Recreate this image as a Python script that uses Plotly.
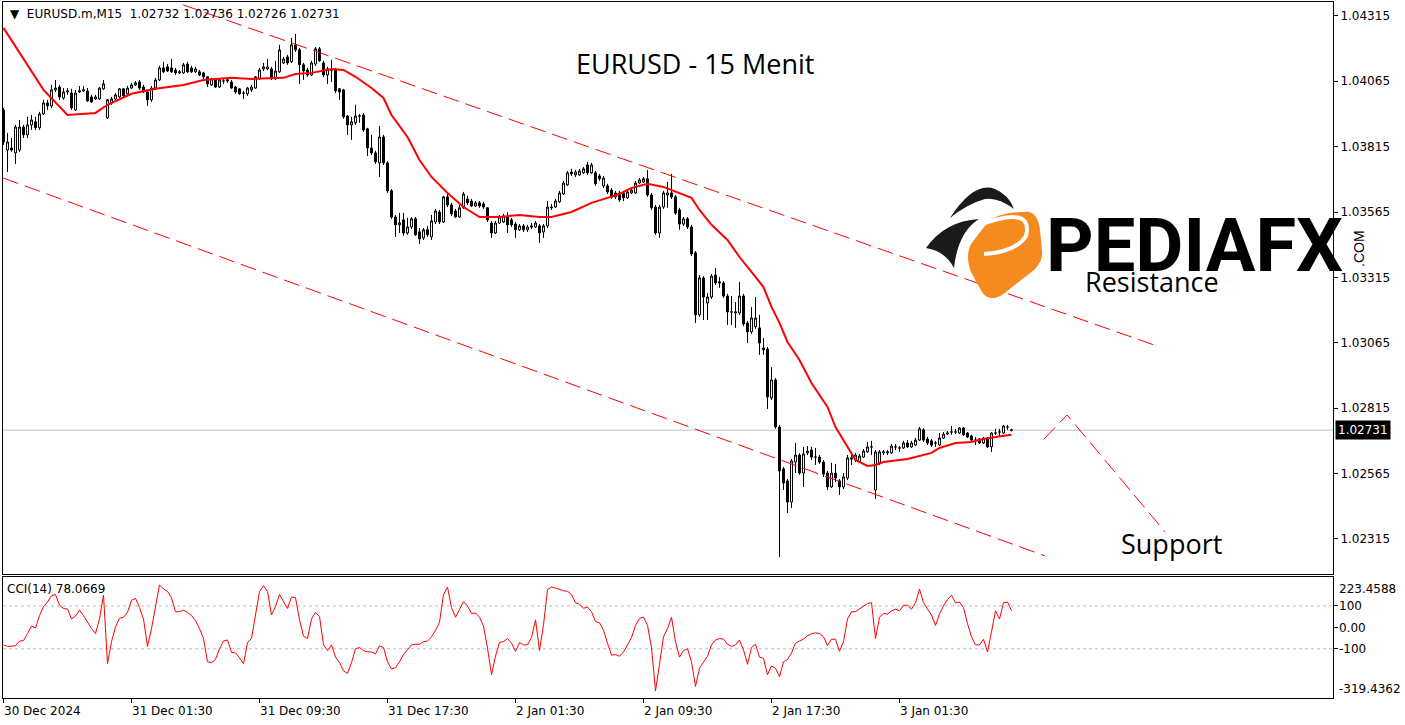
import plotly.graph_objects as go

# ---------------- data ----------------
opens = [1.03955, 1.03802, 1.03810, 1.03791, 1.03802, 1.03890, 1.03860, 1.03898, 1.03910, 1.03887,
         1.03940, 1.03982, 1.03971, 1.04032, 1.04043, 1.04001, 1.04024, 1.04020, 1.03955, 1.04024,
         1.04028, 1.04028, 1.04005, 1.03997, 1.03997, 1.04036, 1.03925, 1.03982, 1.03997, 1.04005,
         1.04036, 1.04017, 1.04039, 1.04051, 1.04062, 1.04043, 1.04024, 1.03994, 1.04039, 1.04070,
         1.04116, 1.04120, 1.04116, 1.04108, 1.04097, 1.04097, 1.04131, 1.04116, 1.04101, 1.04101,
         1.04097, 1.04082, 1.04051, 1.04074, 1.04043, 1.04066, 1.04066, 1.04062, 1.04043, 1.04036,
         1.04020, 1.04017, 1.04032, 1.04039, 1.04074, 1.04112, 1.04112, 1.04112, 1.04074, 1.04101,
         1.04135, 1.04158, 1.04139, 1.04204, 1.04185, 1.04128, 1.04108, 1.04089, 1.04131, 1.04189,
         1.04135, 1.04089, 1.04108, 1.04108, 1.04036, 1.04032, 1.03932, 1.03898, 1.03906, 1.03932,
         1.03936, 1.03883, 1.03810, 1.03791, 1.03753, 1.03852, 1.03753, 1.03646, 1.03546, 1.03516,
         1.03535, 1.03485, 1.03508, 1.03539, 1.03489, 1.03466, 1.03497, 1.03470, 1.03527, 1.03565,
         1.03527, 1.03623, 1.03592, 1.03569, 1.03546, 1.03581, 1.03615, 1.03607, 1.03588, 1.03600,
         1.03596, 1.03581, 1.03523, 1.03485, 1.03523, 1.03527, 1.03546, 1.03535, 1.03519, 1.03497,
         1.03512, 1.03497, 1.03512, 1.03508, 1.03512, 1.03489, 1.03512, 1.03581, 1.03584, 1.03604,
         1.03634, 1.03669, 1.03718, 1.03707, 1.03707, 1.03715, 1.03745, 1.03715, 1.03715, 1.03703,
         1.03665, 1.03665, 1.03649, 1.03623, 1.03638, 1.03638, 1.03619, 1.03638, 1.03638, 1.03676,
         1.03680, 1.03692, 1.03630, 1.03584, 1.03485, 1.03584, 1.03630, 1.03638, 1.03623, 1.03573,
         1.03519, 1.03539, 1.03508, 1.03409, 1.03172, 1.03313, 1.03217, 1.03240, 1.03324, 1.03298,
         1.03294, 1.03244, 1.03183, 1.03179, 1.03179, 1.03244, 1.03141, 1.03107, 1.03126, 1.03122,
         1.03045, 1.03041, 1.02854, 1.02923, 1.02743, 1.02583, 1.02537, 1.02456, 1.02609, 1.02636,
         1.02567, 1.02644, 1.02655, 1.02628, 1.02628, 1.02609, 1.02567, 1.02514, 1.02567, 1.02537,
         1.02514, 1.02548, 1.02625, 1.02617, 1.02609, 1.02628, 1.02648, 1.02667, 1.02502, 1.02606,
         1.02644, 1.02644, 1.02644, 1.02667, 1.02663, 1.02663, 1.02682, 1.02667, 1.02674, 1.02693,
         1.02732, 1.02697, 1.02690, 1.02682, 1.02674, 1.02701, 1.02716, 1.02724, 1.02724, 1.02720,
         1.02739, 1.02720, 1.02709, 1.02693, 1.02697, 1.02682, 1.02701, 1.02667, 1.02720, 1.02724,
         1.02720, 1.02743, 1.02732]

highs = [1.03963, 1.03867, 1.03848, 1.03898, 1.03917, 1.03898, 1.03929, 1.03936, 1.03929, 1.03948,
         1.03994, 1.03994, 1.04051, 1.04070, 1.04051, 1.04039, 1.04039, 1.04036, 1.04032, 1.04047,
         1.04047, 1.04039, 1.04013, 1.04013, 1.04043, 1.04070, 1.03997, 1.04005, 1.04020, 1.04039,
         1.04039, 1.04047, 1.04059, 1.04066, 1.04070, 1.04051, 1.04032, 1.04047, 1.04078, 1.04124,
         1.04139, 1.04131, 1.04150, 1.04116, 1.04108, 1.04135, 1.04139, 1.04124, 1.04120, 1.04108,
         1.04101, 1.04085, 1.04078, 1.04078, 1.04074, 1.04078, 1.04078, 1.04070, 1.04047, 1.04039,
         1.04028, 1.04043, 1.04051, 1.04085, 1.04116, 1.04135, 1.04150, 1.04120, 1.04143, 1.04204,
         1.04158, 1.04166, 1.04231, 1.04246, 1.04192, 1.04135, 1.04116, 1.04143, 1.04196, 1.04196,
         1.04143, 1.04120, 1.04147, 1.04116, 1.04039, 1.04036, 1.03936, 1.03929, 1.03975, 1.03940,
         1.03944, 1.03887, 1.03860, 1.03799, 1.03894, 1.03860, 1.03760, 1.03653, 1.03554, 1.03562,
         1.03562, 1.03543, 1.03546, 1.03546, 1.03504, 1.03504, 1.03512, 1.03554, 1.03577, 1.03573,
         1.03627, 1.03634, 1.03600, 1.03577, 1.03592, 1.03642, 1.03627, 1.03615, 1.03607, 1.03607,
         1.03604, 1.03584, 1.03531, 1.03531, 1.03554, 1.03558, 1.03565, 1.03542, 1.03527, 1.03519,
         1.03519, 1.03516, 1.03523, 1.03531, 1.03519, 1.03519, 1.03607, 1.03596, 1.03615, 1.03646,
         1.03684, 1.03722, 1.03730, 1.03726, 1.03730, 1.03737, 1.03757, 1.03753, 1.03722, 1.03711,
         1.03703, 1.03673, 1.03657, 1.03646, 1.03646, 1.03646, 1.03649, 1.03657, 1.03684, 1.03695,
         1.03699, 1.03726, 1.03638, 1.03592, 1.03592, 1.03646, 1.03680, 1.03711, 1.03630, 1.03581,
         1.03546, 1.03546, 1.03516, 1.03416, 1.03324, 1.03320, 1.03255, 1.03328, 1.03351, 1.03317,
         1.03301, 1.03252, 1.03244, 1.03221, 1.03298, 1.03252, 1.03148, 1.03202, 1.03240, 1.03172,
         1.03083, 1.03049, 1.02972, 1.02930, 1.02751, 1.02590, 1.02544, 1.02621, 1.02682, 1.02643,
         1.02667, 1.02670, 1.02667, 1.02663, 1.02636, 1.02617, 1.02575, 1.02606, 1.02602, 1.02544,
         1.02567, 1.02636, 1.02648, 1.02644, 1.02640, 1.02659, 1.02686, 1.02690, 1.02655, 1.02655,
         1.02655, 1.02655, 1.02678, 1.02678, 1.02670, 1.02690, 1.02693, 1.02690, 1.02701, 1.02743,
         1.02739, 1.02705, 1.02697, 1.02690, 1.02720, 1.02724, 1.02728, 1.02747, 1.02736, 1.02743,
         1.02743, 1.02724, 1.02713, 1.02705, 1.02701, 1.02705, 1.02705, 1.02724, 1.02736, 1.02736,
         1.02751, 1.02751, 1.02736]

lows = [1.03822, 1.03718, 1.03795, 1.03749, 1.03795, 1.03848, 1.03848, 1.03879, 1.03879, 1.03879,
        1.03936, 1.03955, 1.03963, 1.04024, 1.03994, 1.03994, 1.04013, 1.03955, 1.03952, 1.04020,
        1.04024, 1.03986, 1.03982, 1.03994, 1.03994, 1.04032, 1.03921, 1.03975, 1.03994, 1.04001,
        1.04001, 1.04013, 1.04036, 1.04047, 1.04032, 1.04020, 1.03971, 1.03986, 1.04032, 1.04066,
        1.04097, 1.04101, 1.04097, 1.04089, 1.04093, 1.04093, 1.04097, 1.04097, 1.04097, 1.04085,
        1.04070, 1.04043, 1.04047, 1.04039, 1.04039, 1.04055, 1.04059, 1.04036, 1.04017, 1.04013,
        1.03997, 1.04009, 1.04024, 1.04036, 1.04070, 1.04104, 1.04108, 1.04070, 1.04070, 1.04097,
        1.04131, 1.04128, 1.04135, 1.04177, 1.04055, 1.04070, 1.04082, 1.04085, 1.04124, 1.04139,
        1.04082, 1.04055, 1.04062, 1.04020, 1.03994, 1.03921, 1.03860, 1.03841, 1.03898, 1.03906,
        1.03871, 1.03779, 1.03783, 1.03749, 1.03699, 1.03745, 1.03638, 1.03539, 1.03470, 1.03485,
        1.03474, 1.03478, 1.03500, 1.03474, 1.03443, 1.03458, 1.03470, 1.03458, 1.03519, 1.03519,
        1.03523, 1.03584, 1.03550, 1.03542, 1.03542, 1.03577, 1.03592, 1.03584, 1.03584, 1.03581,
        1.03577, 1.03527, 1.03466, 1.03481, 1.03519, 1.03523, 1.03485, 1.03508, 1.03466, 1.03493,
        1.03489, 1.03489, 1.03500, 1.03504, 1.03447, 1.03466, 1.03504, 1.03573, 1.03581, 1.03600,
        1.03630, 1.03665, 1.03703, 1.03699, 1.03703, 1.03711, 1.03707, 1.03711, 1.03665, 1.03684,
        1.03657, 1.03634, 1.03615, 1.03615, 1.03604, 1.03607, 1.03615, 1.03634, 1.03634, 1.03673,
        1.03676, 1.03623, 1.03573, 1.03478, 1.03466, 1.03577, 1.03581, 1.03615, 1.03554, 1.03497,
        1.03512, 1.03500, 1.03397, 1.03141, 1.03164, 1.03152, 1.03152, 1.03233, 1.03286, 1.03275,
        1.03237, 1.03133, 1.03133, 1.03122, 1.03172, 1.03129, 1.03064, 1.03099, 1.03118, 1.03019,
        1.03019, 1.02812, 1.02846, 1.02736, 1.02246, 1.02502, 1.02414, 1.02433, 1.02567, 1.02560,
        1.02514, 1.02636, 1.02617, 1.02598, 1.02602, 1.02552, 1.02502, 1.02510, 1.02533, 1.02483,
        1.02506, 1.02540, 1.02598, 1.02609, 1.02606, 1.02625, 1.02644, 1.02636, 1.02468, 1.02598,
        1.02636, 1.02636, 1.02640, 1.02655, 1.02648, 1.02659, 1.02663, 1.02663, 1.02670, 1.02690,
        1.02686, 1.02674, 1.02667, 1.02667, 1.02670, 1.02697, 1.02713, 1.02713, 1.02716, 1.02716,
        1.02709, 1.02701, 1.02690, 1.02674, 1.02678, 1.02678, 1.02663, 1.02648, 1.02713, 1.02705,
        1.02716, 1.02732, 1.02726]

closes = [1.03833, 1.03833, 1.03802, 1.03890, 1.03890, 1.03860, 1.03898, 1.03917, 1.03887, 1.03940,
          1.03982, 1.03971, 1.04032, 1.04039, 1.04005, 1.04024, 1.04028, 1.03963, 1.04020, 1.04028,
          1.04032, 1.03990, 1.03986, 1.04005, 1.04039, 1.04055, 1.03994, 1.03997, 1.04013, 1.04036,
          1.04009, 1.04039, 1.04051, 1.04059, 1.04039, 1.04024, 1.03994, 1.04039, 1.04070, 1.04116,
          1.04101, 1.04104, 1.04101, 1.04097, 1.04101, 1.04128, 1.04101, 1.04101, 1.04112, 1.04089,
          1.04082, 1.04055, 1.04074, 1.04043, 1.04070, 1.04066, 1.04070, 1.04039, 1.04024, 1.04017,
          1.04020, 1.04039, 1.04043, 1.04082, 1.04108, 1.04120, 1.04120, 1.04074, 1.04104, 1.04185,
          1.04150, 1.04135, 1.04204, 1.04185, 1.04128, 1.04104, 1.04089, 1.04135, 1.04189, 1.04143,
          1.04089, 1.04112, 1.04108, 1.04028, 1.04024, 1.03929, 1.03898, 1.03910, 1.03932, 1.03932,
          1.03879, 1.03810, 1.03791, 1.03757, 1.03852, 1.03753, 1.03646, 1.03546, 1.03516, 1.03524,
          1.03485, 1.03508, 1.03539, 1.03478, 1.03462, 1.03497, 1.03478, 1.03531, 1.03569, 1.03527,
          1.03623, 1.03592, 1.03558, 1.03546, 1.03581, 1.03634, 1.03600, 1.03588, 1.03600, 1.03588,
          1.03584, 1.03535, 1.03485, 1.03523, 1.03546, 1.03550, 1.03516, 1.03516, 1.03497, 1.03512,
          1.03497, 1.03508, 1.03508, 1.03523, 1.03485, 1.03512, 1.03584, 1.03584, 1.03607, 1.03638,
          1.03676, 1.03715, 1.03711, 1.03718, 1.03722, 1.03730, 1.03715, 1.03745, 1.03673, 1.03692,
          1.03695, 1.03642, 1.03623, 1.03638, 1.03611, 1.03619, 1.03642, 1.03649, 1.03676, 1.03688,
          1.03692, 1.03630, 1.03581, 1.03485, 1.03584, 1.03638, 1.03638, 1.03623, 1.03561, 1.03519,
          1.03539, 1.03508, 1.03405, 1.03172, 1.03313, 1.03240, 1.03240, 1.03320, 1.03294, 1.03294,
          1.03244, 1.03183, 1.03183, 1.03183, 1.03244, 1.03137, 1.03107, 1.03160, 1.03160, 1.03064,
          1.03038, 1.02858, 1.02923, 1.02743, 1.02575, 1.02529, 1.02456, 1.02613, 1.02636, 1.02567,
          1.02640, 1.02651, 1.02628, 1.02628, 1.02609, 1.02563, 1.02514, 1.02567, 1.02548, 1.02514,
          1.02552, 1.02625, 1.02621, 1.02636, 1.02632, 1.02651, 1.02667, 1.02667, 1.02648, 1.02648,
          1.02648, 1.02648, 1.02670, 1.02667, 1.02663, 1.02682, 1.02667, 1.02682, 1.02693, 1.02736,
          1.02693, 1.02682, 1.02674, 1.02682, 1.02701, 1.02716, 1.02720, 1.02724, 1.02724, 1.02739,
          1.02713, 1.02705, 1.02693, 1.02693, 1.02682, 1.02701, 1.02667, 1.02720, 1.02720, 1.02724,
          1.02747, 1.02743, 1.02731]

# moving average
ma_bar = [0, 10, 16, 23, 26, 32, 38, 45, 50, 54, 57, 62, 70, 73, 77, 82, 85, 88, 92, 95,
          97, 101, 104, 107, 111, 115, 119, 124, 129, 134, 137, 142, 147, 151, 154, 157, 161, 165, 168, 172,
          174, 177, 181, 184, 187, 190, 192, 194, 196, 199, 202, 206, 208, 211, 213, 216, 218, 220, 226, 228,
          232, 234, 238, 242, 245, 248, 252]
ma_val = [1.04269, 1.04032, 1.03936, 1.03944, 1.03975, 1.04017, 1.04036, 1.04051, 1.04070, 1.04074,
          1.04078, 1.04074, 1.04078, 1.04093, 1.04097, 1.04112, 1.04108, 1.04082, 1.04039, 1.04001,
          1.03936, 1.03852, 1.03764, 1.03699, 1.03638, 1.03584, 1.03546, 1.03546, 1.03554, 1.03546,
          1.03546, 1.03565, 1.03600, 1.03619, 1.03634, 1.03657, 1.03673, 1.03661, 1.03642, 1.03619,
          1.03573, 1.03516, 1.03458, 1.03393, 1.03336, 1.03278, 1.03202, 1.03141, 1.03068, 1.02999,
          1.02911, 1.02820, 1.02743, 1.02667, 1.02617, 1.02594, 1.02598, 1.02609, 1.02621, 1.02628,
          1.02644, 1.02663, 1.02682, 1.02686, 1.02697, 1.02705, 1.02713]

cci = [-82, -89, -88, -86, -64, -62, -29, 6, -3, 55,
       97, 118, 148, 153, 103, 88, 85, 39, 52, 80,
       55, 24, -6, -29, 39, 150, -170, -67, 2, 42,
       47, 70, 127, 135, 92, 39, -89, -6, 100, 198,
       179, 168, 138, 73, 73, 80, 70, 55, 32, -6,
       -52, -161, -165, -150, -100, -64, -59, -117, -120, -142,
       -170, -71, -52, 55, 168, 194, 168, 58, 97, 153,
       120, 88, 142, 138, 36, -41, -52, 39, 70, 50,
       -82, -109, -82, -139, -165, -203, -215, -165, -100, -94,
       -109, -115, -115, -124, -86, -94, -161, -195, -188, -161,
       -127, -105, -82, -79, -79, -67, -64, -44, -14, 24,
       153, 188, 92, 47, 85, 120, 100, 65, 67, 47,
       6, -97, -221, -135, -70, -67, -52, -74, -112, -71,
       -82, -82, -48, 35, -109, 12, 176, 188, 183, 176,
       171, 168, 153, 115, 108, 89, 95, 73, 27, 21,
       -14, -74, -130, -127, -135, -115, -82, -48, 9, 42,
       47, 9, -94, -297, -173, -44, -6, 47, -67, -139,
       -109, -100, -161, -276, -191, -161, -135, -82, -59, -52,
       -55, -79, -89, -82, -59, -105, -173, -94, -79, -139,
       -145, -221, -180, -192, -230, -161, -150, -120, -74, -64,
       -55, -39, -30, -26, -29, -44, -85, -55, -56, -112,
       -67, 39, 73, 73, 85, 100, 111, 115, -52, 47,
       65, 62, 77, 85, 77, 103, 103, 85, 115, 179,
       115, 85, 58, 9, 62, 100, 130, 150, 115, 118,
       92, 17, -44, -82, -82, -56, -115, -21, 77, 39,
       115, 118, 78]

price_ticks = [1.04315, 1.04065, 1.03815, 1.03565, 1.03315, 1.03065, 1.02815, 1.02565, 1.02315]
time_tick_bars = [0, 32, 64, 96, 128, 160, 192, 224]
time_tick_labels = ["30 Dec 2024", "31 Dec 01:30", "31 Dec 09:30", "31 Dec 17:30",
                    "2 Jan 01:30", "2 Jan 09:30", "2 Jan 17:30", "3 Jan 01:30"]
last_price = 1.02731
cci_last = 78.0669
cci_max, cci_min = 223.4588, -319.4362

# channel / projection drawings (bar index, price)
upper_bar, upper_price = [44.9, 289.1], [1.04357, 1.03049]
lower_bar, lower_price = [-0.1, 260.4], [1.03695, 1.02250]
proj_bar, proj_price = [260.1, 265.9, 290.4], [1.02697, 1.02789, 1.02342]

bars = list(range(len(closes)))

# ---------------- geometry ----------------
W, H = 1405, 725
PL, PR, PT, PB = 3, 1333, 2, 698


def pp(x, y):
    return (x - PL) / (PR - PL), (PB - y) / (PB - PT)


def path(cmds):
    out = []
    for c in cmds:
        if isinstance(c, str):
            out.append(c)
        else:
            px_, py_ = pp(*c)
            out.append(f"{px_:.5f},{py_:.5f}")
    return " ".join(out)


main_lo = (PB - 574) / (PB - PT)
cci_hi = (PB - 577) / (PB - PT)
XR = [-0.125, 332.375]

fig = go.Figure()

fig.add_trace(go.Candlestick(
    x=bars, open=opens, high=highs, low=lows, close=closes,
    xaxis="x", yaxis="y",
    increasing=dict(fillcolor="white", line=dict(color="black", width=1)),
    decreasing=dict(fillcolor="black", line=dict(color="black", width=1)),
    whiskerwidth=0, showlegend=False, hoverinfo="skip"))

fig.add_trace(go.Scatter(x=ma_bar, y=ma_val, mode="lines", xaxis="x", yaxis="y",
                         line=dict(color="#FF0000", width=2), showlegend=False, hoverinfo="skip"))

for bx, by in [(upper_bar, upper_price), (lower_bar, lower_price), (proj_bar, proj_price)]:
    fig.add_trace(go.Scatter(x=bx, y=by, mode="lines", xaxis="x", yaxis="y",
                             line=dict(color="#FF0000", width=1, dash="16px,7px"),
                             showlegend=False, hoverinfo="skip"))

fig.add_trace(go.Scatter(x=bars, y=cci, mode="lines", xaxis="x2", yaxis="y2",
                         line=dict(color="#FF0000", width=1), showlegend=False, hoverinfo="skip"))

AX_FONT = dict(family="DejaVu Sans", size=12, color="black")

fig.update_layout(
    width=W, height=H, autosize=False,
    margin=dict(l=PL, r=W - PR, t=PT, b=H - PB),
    paper_bgcolor="white", plot_bgcolor="white",
    showlegend=False,
    xaxis=dict(domain=[0, 1], anchor="y", range=XR, showticklabels=False, showgrid=False,
               zeroline=False, showline=True, mirror=True, linecolor="black", linewidth=1,
               ticks="", rangeslider=dict(visible=False)),
    yaxis=dict(domain=[main_lo, 1], anchor="x", side="right", range=[1.02181, 1.04368],
               tickvals=price_ticks, ticktext=[f"{v:.5f}" for v in price_ticks],
               ticks="outside", ticklen=4, tickcolor="black", showgrid=False, zeroline=False,
               showline=True, mirror=True, linecolor="black", linewidth=1, tickfont=AX_FONT),
    xaxis2=dict(domain=[0, 1], anchor="y2", range=XR, matches="x", showticklabels=False,
                showgrid=False, zeroline=False, showline=True, mirror=True, linecolor="black",
                linewidth=1, tickvals=time_tick_bars, ticks="outside", ticklen=4, tickcolor="black"),
    yaxis2=dict(domain=[0, cci_hi], anchor="x2", side="right", range=[-330, 235],
                tickvals=[100, 0, -100], showticklabels=False, ticks="outside", ticklen=4,
                tickcolor="black", showgrid=False, zeroline=False, showline=True, mirror=True,
                linecolor="black", linewidth=1),
)

shapes = []
# current price line
shapes.append(dict(type="line", xref="paper", yref="y", x0=0, x1=1, y0=last_price, y1=last_price,
                   line=dict(color="#C0C0C0", width=1), layer="below"))
# CCI levels
for lv in (100, -100):
    shapes.append(dict(type="line", xref="paper", yref="y2", x0=0, x1=1, y0=lv, y1=lv,
                       line=dict(color="#C0C0C0", width=1, dash="3px,3px"), layer="below"))

# logo
ORANGE = "#F58A1F"
shapes.append(dict(type="path", xref="paper", yref="paper", layer="above",
                   fillcolor=ORANGE, line=dict(width=0),
                   path=path(["M", (1024, 212), "C", (1033, 210), (1039, 218), (1040, 230),
                              "L", (1042, 250), "C", (1043, 258), (1040, 264), (1034, 270),
                              "L", (1002, 295), "C", (994, 300), (986, 299), (982, 292),
                              "L", (971, 272), "C", (967, 262), (967, 252), (971, 244),
                              "L", (988, 222), "C", (996, 214), (1012, 212), (1024, 212), "Z"])))
shapes.append(dict(type="path", xref="paper", yref="paper", layer="above",
                   fillcolor="rgba(0,0,0,0)", line=dict(color="white", width=4),
                   path=path(["M", (977, 226), "Q", (1034, 204), (1026, 236),
                              "Q", (1016, 252), (984, 254)])))
shapes.append(dict(type="path", xref="paper", yref="paper", layer="above",
                   fillcolor="#1A1A1A", line=dict(width=0),
                   path=path(["M", (950, 218), "Q", (974, 181), (995, 189), "Q", (1009, 195), (1014, 209),
                              "Q", (998, 197), (985, 199), "Q", (967, 204), (950, 218), "Z"])))
shapes.append(dict(type="path", xref="paper", yref="paper", layer="above",
                   fillcolor="#1A1A1A", line=dict(width=0),
                   path=path(["M", (926, 248), "Q", (945, 221), (979, 219), "Q", (958, 232), (954, 268),
                              "Q", (945, 251), (926, 248), "Z"])))
fig.update_layout(shapes=shapes)

ann = []


def add_text(text, x, y, size, family="DejaVu Sans", xanchor="left", color="black", **kw):
    px_, py_ = pp(x, y)
    ann.append(dict(text=text, x=px_, y=py_, xref="paper", yref="paper", showarrow=False,
                    xanchor=xanchor, yanchor="middle", font=dict(family=family, size=size, color=color),
                    **kw))


add_text("▼  EURUSD.m,M15  1.02732 1.02736 1.02726 1.02731", 8, 14, 12)
add_text("EURUSD - 15 Menit", 695, 63, 27, family="Open Sans", xanchor="center")
add_text("Resistance", 1152, 282, 27, family="Open Sans", xanchor="center")
add_text("Support", 1171, 543, 27, family="Open Sans", xanchor="center")
add_text("<b>PEDIAFX</b>", 1194, 245, 74, family="Roboto", xanchor="center")
add_text(".COM", 1359, 249, 14, family="Liberation Sans", xanchor="center", textangle=-90)
add_text(f"CCI(14) {cci_last:.4f}", 5, 589, 12)

# price box
add_text(f"{last_price:.5f}", 1335, 430, 12, color="white", bgcolor="black", borderpad=2)

# CCI scale labels
for txt, yy in [(f"{cci_max:.4f}", 589), ("100", 606), ("0.00", 628), ("-100", 649),
                (f"{cci_min:.4f}", 689)]:
    add_text(txt, 1337, yy, 12)

# time labels
for b, lab in zip(time_tick_bars, time_tick_labels):
    ann.append(dict(text=lab, x=b, y=(PB - 711) / (PB - PT), xref="x2", yref="paper",
                    showarrow=False, xanchor="left", yanchor="middle", xshift=-2,
                    font=AX_FONT))

fig.update_layout(annotations=ann)

fig.write_html("out.html", config={"displayModeBar": False},
               post_script="document.body.style.margin='0';document.body.style.overflow='hidden';")
